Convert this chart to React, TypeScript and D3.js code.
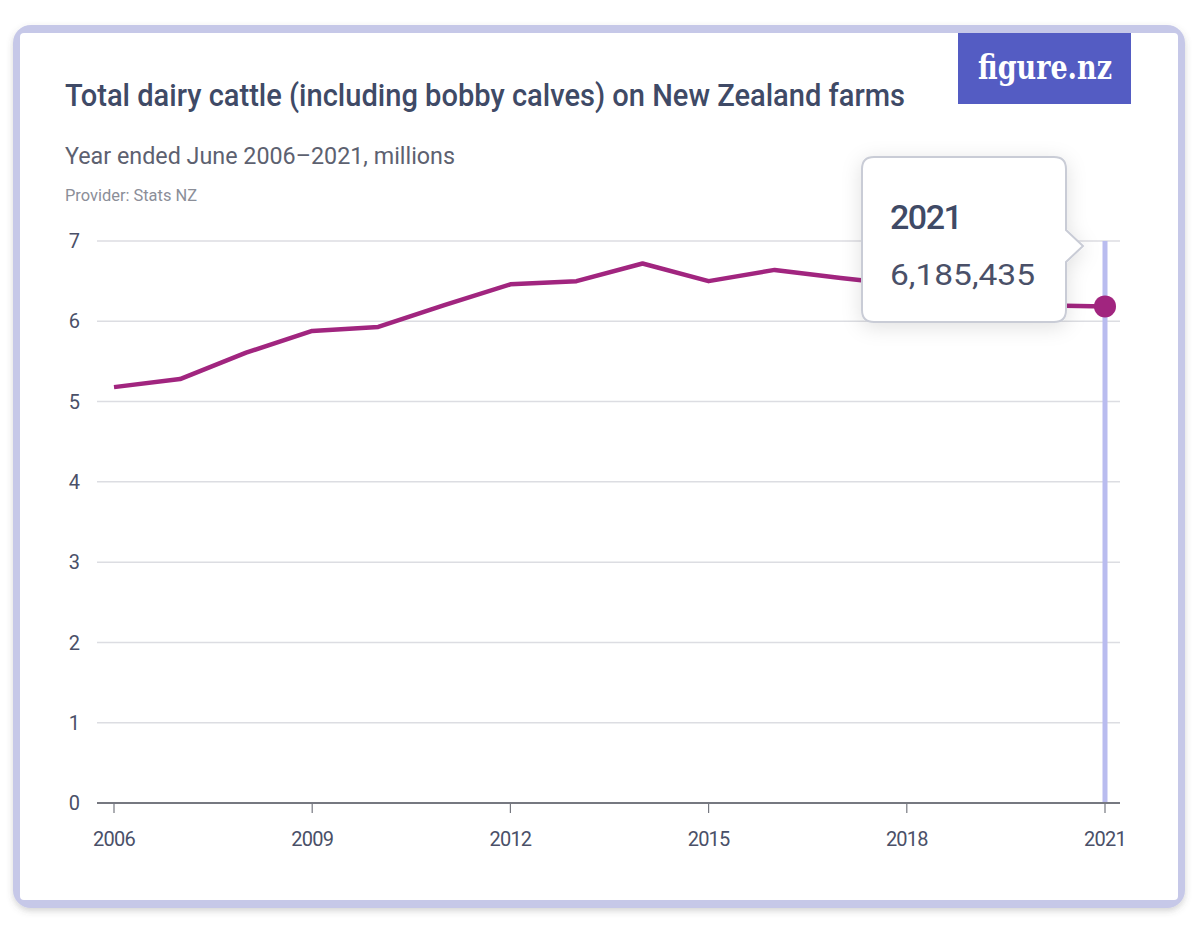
import React from "react";
import * as d3 from "d3";

const years = [2006, 2007, 2008, 2009, 2010, 2011, 2012, 2013, 2014, 2015, 2016, 2017, 2018, 2019, 2020, 2021];
const cattle = [5.18, 5.28, 5.61, 5.88, 5.93, 6.2, 6.46, 6.5, 6.72, 6.5, 6.64, 6.54, 6.45, 6.26, 6.2, 6.185435];
const yTicks = [0, 1, 2, 3, 4, 5, 6, 7];
const xTicks = [2006, 2009, 2012, 2015, 2018, 2021];

const title = "Total dairy cattle (including bobby calves) on New Zealand farms";
const subtitle = "Year ended June 2006–2021, millions";
const provider = "Provider: Stats NZ";
const logo = "figure.nz";
const tipYear = "2021";
const tipValue = "6,185,435";

export default function App() {
  const W = 1200, H = 931;
  const x = d3.scaleLinear().domain([2006, 2021]).range([114, 1105]);
  const y = d3.scaleLinear().domain([0, 7]).range([803, 241]);
  const data = years.map((yr, i) => ({ yr, v: cattle[i] }));
  const line = d3.line<{ yr: number; v: number }>().x(d => x(d.yr)).y(d => y(d.v));
  const last = data[data.length - 1];
  const font = "Roboto, 'Liberation Sans', sans-serif";
  const serif = "'DejaVu Serif', 'Liberation Serif', serif";
  const dark = "#3f4a66";
  const purple = "#a1257f";

  // tooltip geometry
  const tx = 862, ty = 157, tw = 204, th = 165, r = 12;
  const ay = 246, ah = 16, aw = 17;
  const tipPath =
    `M${tx + r},${ty} H${tx + tw - r} Q${tx + tw},${ty} ${tx + tw},${ty + r} ` +
    `V${ay - ah} L${tx + tw + aw},${ay} L${tx + tw},${ay + ah} ` +
    `V${ty + th - r} Q${tx + tw},${ty + th} ${tx + tw - r},${ty + th} ` +
    `H${tx + r} Q${tx},${ty + th} ${tx},${ty + th - r} V${ty + r} Q${tx},${ty} ${tx + r},${ty} Z`;

  return (
    <svg width={W} height={H} style={{ position: "absolute", left: 0, top: 0 }} fontFamily={font}>
      <defs>
        <filter id="sh" x="-30%" y="-30%" width="160%" height="160%">
          <feDropShadow dx="0" dy="4" stdDeviation="10" floodColor="#000" floodOpacity="0.12" />
        </filter>
        <filter id="cardsh" x="-5%" y="-5%" width="110%" height="110%">
          <feDropShadow dx="0" dy="3" stdDeviation="3" floodColor="#555" floodOpacity="0.25" />
        </filter>
      </defs>
      <rect width={W} height={H} fill="#fff" />
      {/* card */}
      <rect x={13} y={25} width={1172} height={883} rx={18} fill="#c6c8e8" filter="url(#cardsh)" />
      <rect x={20} y={33} width={1158} height={867} rx={4} fill="#fff" />

      {/* logo */}
      <rect x={958} y={33} width={173} height={71} fill="#545cc3" />
      <text x={978} y={79} fill="#fff" fontFamily={serif} fontSize={33} fontWeight={700} textLength={134} lengthAdjust="spacingAndGlyphs">{logo}</text>

      {/* titles */}
      <text x={65} y={106} fill={dark} fontSize={31} fontWeight={500} textLength={840} lengthAdjust="spacingAndGlyphs">{title}</text>
      <text x={65} y={164} fill="#5d6170" fontSize={24} textLength={390} lengthAdjust="spacingAndGlyphs">{subtitle}</text>
      <text x={65} y={201} fill="#8b8e98" fontSize={16} textLength={132} lengthAdjust="spacingAndGlyphs">{provider}</text>

      {/* grid */}
      {yTicks.map(t => (
        <g key={t}>
          {t > 0 && <line x1={97} x2={1120} y1={y(t)} y2={y(t)} stroke="#dcdde2" strokeWidth={1.5} />}
          <text x={80} y={y(t)} dy="0.36em" textAnchor="end" fill="#4a5068" fontSize={20}>{t}</text>
        </g>
      ))}

      {/* highlight line */}
      <line x1={x(2021)} x2={x(2021)} y1={y(7)} y2={y(0)} stroke="#b9bcef" strokeWidth={5} />

      {/* x axis */}
      <line x1={97} x2={1120} y1={y(0)} y2={y(0)} stroke="#767880" strokeWidth={2} />
      {xTicks.map(t => (
        <g key={t}>
          <line x1={x(t)} x2={x(t)} y1={y(0)} y2={y(0) + 10} stroke="#767880" strokeWidth={1.2} />
          <text x={x(t)} y={846} textAnchor="middle" fill="#4a5068" fontSize={20} letterSpacing={-0.8}>{t}</text>
        </g>
      ))}

      {/* series */}
      <path d={line(data) || ""} fill="none" stroke={purple} strokeWidth={4.5} strokeLinejoin="round" />
      <circle cx={x(last.yr)} cy={y(last.v)} r={11} fill={purple} />

      {/* tooltip */}
      <path d={tipPath} fill="#fff" stroke="#c9ccd6" strokeWidth={2} filter="url(#sh)" />
      <text x={890} y={229} fill={dark} fontSize={34} fontWeight={500} letterSpacing={-1.5}>{tipYear}</text>
      <text x={890} y={285} fill="#4a5068" fontSize={30} textLength={145} lengthAdjust="spacingAndGlyphs">{tipValue}</text>
    </svg>
  );
}
